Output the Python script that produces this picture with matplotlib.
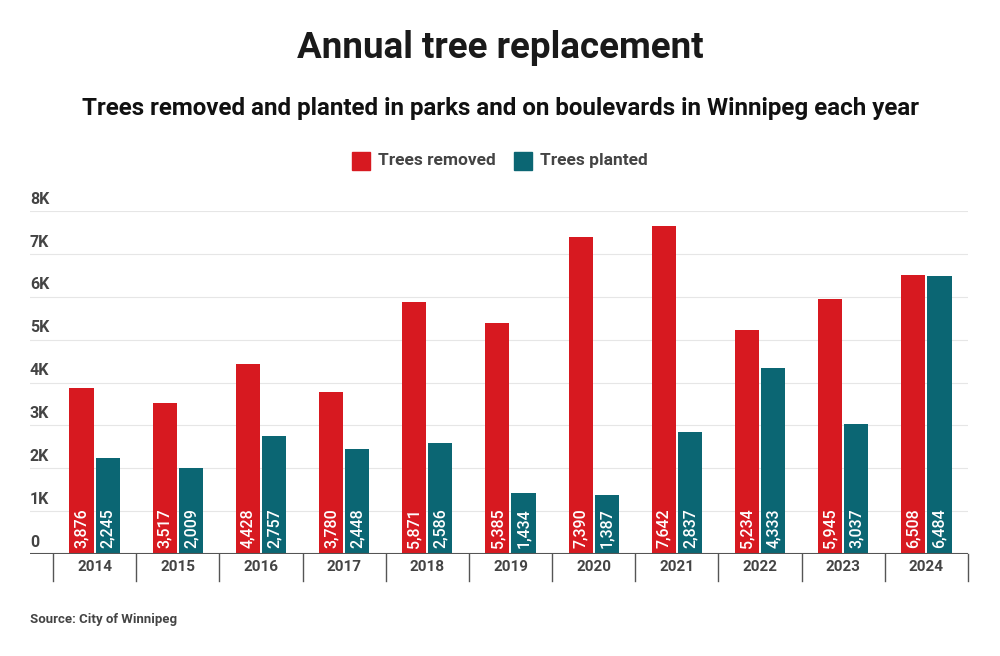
import numpy as np
import matplotlib
matplotlib.use('Agg')
import matplotlib.pyplot as plt
from matplotlib.patches import Rectangle

# 数据
years = ['2014', '2015', '2016', '2017', '2018', '2019', '2020', '2021', '2022', '2023', '2024']
removed = [3876, 3517, 4428, 3780, 5871, 5385, 7390, 7642, 5234, 5945, 6508]
planted = [2245, 2009, 2757, 2448, 2586, 1434, 1387, 2837, 4333, 3037, 6484]
y_ticks = [0, 1000, 2000, 3000, 4000, 5000, 6000, 7000, 8000]
y_labels = ['0', '1K', '2K', '3K', '4K', '5K', '6K', '7K', '8K']

red = '#d71920'
teal = '#0b6673'
grey = '#444444'

plt.rcParams['font.family'] = ['Roboto', 'DejaVu Sans']

fig = plt.figure(figsize=(10, 6.56), dpi=100)
ax = fig.add_axes([0.030, 1 - 554 / 656, 0.968 - 0.030, (554 - 211) / 656])

x = np.arange(len(years))
w = 0.29
off = 0.157
ax.bar(x - off, removed, w, color=red, zorder=3)
ax.bar(x + off, planted, w, color=teal, zorder=3)

# 柱内数值
for i in range(len(years)):
    ax.text(x[i] - off, 130, f'{removed[i]:,}', rotation=90, ha='center', va='bottom',
            color='white', fontsize=11.5, fontweight='medium', zorder=4)
    ax.text(x[i] + off, 130, f'{planted[i]:,}', rotation=90, ha='center', va='bottom',
            color='white', fontsize=11.5, fontweight='medium', zorder=4)

ax.set_xlim(-0.5 - 23 / 83.2, len(years) - 0.5)
ax.set_ylim(0, 8000)

# 网格线和y轴标签
for t in y_ticks[1:]:
    ax.axhline(t, color='#e6e6e6', lw=0.8, zorder=1)
for t, lab in zip(y_ticks, y_labels):
    ax.text(0.0, t + 100, lab, transform=ax.get_yaxis_transform(), ha='left', va='bottom',
            fontsize=11.5, fontweight='bold', color=grey)

ax.axhline(0, color='#555555', lw=1.5, zorder=5)
for s in ax.spines.values():
    s.set_visible(False)
ax.set_yticks([])
ax.set_xticks([])

# 类别分隔线
for b in np.arange(-0.5, len(years), 1.0):
    ax.plot([b, b], [0, -0.08], transform=ax.get_xaxis_transform(), color='#555555',
            lw=1, clip_on=False)
for i, yr in enumerate(years):
    ax.text(x[i], -0.037, yr, transform=ax.get_xaxis_transform(), ha='center', va='center',
            fontsize=11, fontweight='bold', color=grey)

fig.text(0.5, 1 - 48 / 656, 'Annual tree replacement', ha='center', va='center',
         fontsize=26.5, fontweight='bold', color='#1a1a1a')
fig.text(0.5, 1 - 108 / 656, 'Trees removed and planted in parks and on boulevards in Winnipeg each year',
         ha='center', va='center', fontsize=17.4, fontweight='bold', color='#111111')

# 图例
fig.patches.append(Rectangle((352 / 1000, 1 - 170 / 656), 18 / 1000, 18 / 656,
                             transform=fig.transFigure, color=red))
fig.text(378 / 1000, 1 - 161 / 656, 'Trees removed', ha='left', va='center',
         fontsize=12.5, fontweight='bold', color=grey)
fig.patches.append(Rectangle((514 / 1000, 1 - 170 / 656), 18 / 1000, 18 / 656,
                             transform=fig.transFigure, color=teal))
fig.text(540 / 1000, 1 - 161 / 656, 'Trees planted', ha='left', va='center',
         fontsize=12.5, fontweight='bold', color=grey)

fig.text(30 / 1000, 1 - 619 / 656, 'Source: City of Winnipeg', ha='left', va='center',
         fontsize=9.5, fontweight='bold', color=grey)

fig.savefig('out.png', dpi=100, facecolor='white')
